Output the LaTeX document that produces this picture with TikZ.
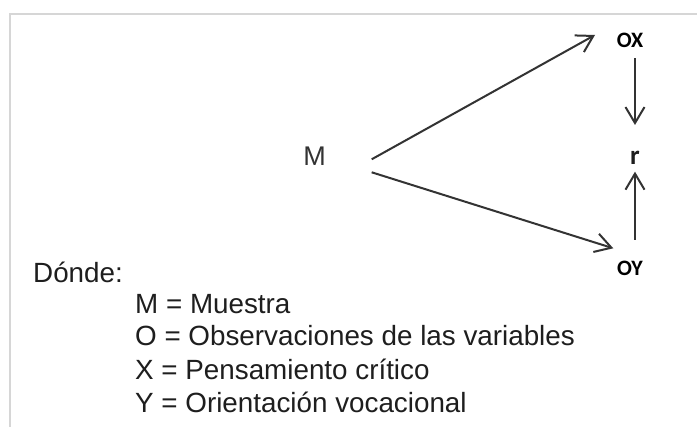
\documentclass[tikz,border=0pt]{standalone}
\usepackage{fontspec}
\setmainfont{Liberation Sans}
\newfontfamily\calib{Carlito}
\usetikzlibrary{arrows.meta}
\definecolor{framegray}{HTML}{D6D6D6}
\definecolor{inkgray}{HTML}{333333}
\definecolor{txt}{HTML}{1E1E1E}
\tikzset{
  arr/.style={draw=inkgray, line width=2pt, -{Straight Barb[length=16pt,width=19pt,line width=2pt]}},
  legend/.style={anchor=base west, inner sep=0pt, text=txt, font=\fontsize{27.8}{30}\selectfont},
  olabel/.style={anchor=base, inner sep=0pt, text=black, font=\calib\bfseries\fontsize{22}{24}\selectfont},
}
\begin{document}
\begin{tikzpicture}[x=1pt,y=-1pt]
\useasboundingbox (0,0) rectangle (697,427);
\fill[white] (0,0) rectangle (697,427);
% frame
\draw[framegray, line width=2pt] (9.5,427) -- (9.5,14) -- (697,14);
% nodes
\node[anchor=base, inner sep=0pt, text=inkgray, font=\fontsize{27}{30}\selectfont] (M) at (314.5,166) {M};
\node[olabel] (OX) at (630,48) {OX};
\node[olabel] (OY) at (630,276) {OY};
\node[anchor=base, inner sep=0pt, text=txt, font=\calib\bfseries\fontsize{27}{30}\selectfont] (r) at (635,165) {r};
% connector end points
\coordinate (m1) at (371.7,159.3);
\coordinate (m2) at (371.7,172.3);
\coordinate (ox) at (595,35);
\coordinate (oy) at (613.3,248.3);
\coordinate (oxb) at (635,58.3);
\coordinate (rt) at (635,125);
\coordinate (oyt) at (635,240);
\coordinate (rb) at (635,171.7);
\draw[arr] (m1) -- (ox);
\draw[arr] (m2) -- (oy);
\draw[arr] (oxb) -- (rt);
\draw[arr] (oyt) -- (rb);
% legend
\node[legend] (d) at (33,283) {Dónde:};
\node[legend] (l1) at (135,314) {M = Muestra};
\node[legend] (l2) at (135,346) {O = Observaciones de las variables};
\node[legend] (l3) at (135,380) {X = Pensamiento crítico};
\node[legend] (l4) at (135,413) {Y = Orientación vocacional};
\end{tikzpicture}
\end{document}
